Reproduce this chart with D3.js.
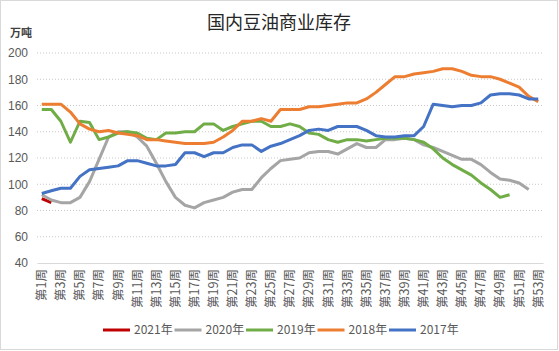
<!DOCTYPE html>
<html>
<head>
<meta charset="utf-8">
<script src="https://cdn.jsdelivr.net/npm/d3@7"></script>
<style>
    body { margin: 0; background: #fff; }
    text { font-family: "Noto Sans CJK SC", "Noto Sans", sans-serif; }
</style>
</head>
<body>
<div id="stock_linechart"></div>
<script>
// weeks 第1周 .. 第53周
const weeks = d3.range(1, 54).map(i => "第" + i + "周");
const yTicks = [40, 60, 80, 100, 120, 140, 160, 180, 200];

const years = ["2021年", "2020年", "2019年", "2018年", "2017年"];
const colors = ["#C00000", "#A5A5A5", "#70AD47", "#ED7D31", "#4472C4"];

const v2021 = [89, 86];
const v2020 = [92, 88, 86, 86, 90, 102, 119, 136, 140, 140, 136, 129, 116, 102, 90, 84, 82, 86, 88, 90,
    94, 96, 96, 105, 112, 118, 119, 120, 124, 125, 125, 123, 127, 131, 128, 128, 134, 134, 135, 134,
    130, 128, 125, 122, 119, 119, 115, 109, 104, 103, 101, 96];
const v2019 = [157, 157, 148, 132, 148, 147, 134, 136, 139, 140, 139, 135, 134, 139, 139, 140, 140, 146, 146, 141,
    144, 146, 148, 148, 144, 144, 146, 144, 139, 138, 134, 132, 134, 134, 133, 134, 135, 135, 135, 134,
    132, 127, 120, 115, 111, 107, 101, 96, 90, 92];
const v2018 = [161, 161, 161, 155, 146, 142, 140, 141, 139, 138, 137, 134, 134, 133, 132, 131, 131, 131, 132, 136,
    141, 148, 148, 150, 148, 157, 157, 157, 159, 159, 160, 161, 162, 162, 165, 170, 176, 182, 182, 184,
    185, 186, 188, 188, 186, 183, 182, 182, 180, 177, 174, 167, 163];
const v2017 = [93, 95, 97, 97, 106, 111, 112, 113, 114, 118, 118, 116, 114, 114, 115, 124, 124, 121, 124, 124,
    128, 130, 130, 125, 129, 131, 134, 137, 141, 142, 141, 144, 144, 144, 141, 137, 136, 136, 137, 137,
    144, 161, 160, 159, 160, 160, 162, 168, 169, 169, 168, 165, 165];

const seriesValues = [v2021, v2020, v2019, v2018, v2017];

const W = 559, H = 351;
const plot = {left: 37, right: 543, top: 53, bottom: 263};

const svg = d3.select("#stock_linechart")
    .append("svg")
        .attr("width", W)
        .attr("height", H);

// chart border
svg.append("rect")
    .attr("x", 0.5).attr("y", 0.5)
    .attr("width", W - 2).attr("height", H - 2)
    .attr("fill", "#fff")
    .attr("stroke", "#D9D9D9");

const x = d3.scaleBand()
    .domain(weeks)
    .range([plot.left, plot.right]);

const y = d3.scaleLinear()
    .domain([40, 200])
    .range([plot.bottom, plot.top]);

// gridlines
svg.append("g")
    .selectAll("line")
    .data(yTicks.slice(1))
    .join("line")
        .attr("x1", plot.left).attr("x2", plot.right)
        .attr("y1", d => y(d)).attr("y2", d => y(d))
        .attr("stroke", "#C8C8C8")
        .attr("stroke-dasharray", "1,2");

// Y axis
const yAxis = svg.append("g")
    .attr("transform", `translate(${plot.left},0)`)
    .call(d3.axisLeft(y).tickValues(yTicks).tickSize(0).tickPadding(9));
yAxis.select(".domain").remove();
yAxis.selectAll("text")
    .style("font-family", "'Liberation Sans', sans-serif")
    .style("font-size", "12px")
    .attr("fill", "#595959");

// X axis, every other week labelled
const xAxis = svg.append("g")
    .attr("transform", `translate(0,${plot.bottom})`)
    .call(d3.axisBottom(x).tickValues(weeks.filter((d, i) => i % 2 === 0)).tickSize(0));
xAxis.select(".domain").attr("stroke", "#D9D9D9");
xAxis.selectAll("text")
    .attr("transform", "rotate(-90)")
    .attr("text-anchor", "end")
    .attr("x", -6)
    .attr("y", 0)
    .attr("dy", "0.35em")
    .style("font-size", "12.5px")
    .attr("fill", "#595959");

// lines
const line = d3.line()
    .x((d, i) => x(weeks[i]) + x.bandwidth() / 2)
    .y(d => y(d));

svg.append("g")
    .selectAll("path")
    .data(seriesValues)
    .join("path")
        .attr("fill", "none")
        .attr("stroke", (d, i) => colors[i])
        .attr("stroke-width", 3)
        .attr("stroke-linejoin", "round")
        .attr("d", line);

// title and unit
svg.append("text")
    .attr("x", 279).attr("y", 29)
    .attr("text-anchor", "middle")
    .style("font-size", "18px")
    .attr("fill", "#262626")
    .text("国内豆油商业库存");

svg.append("text")
    .attr("x", 10).attr("y", 37)
    .style("font-size", "11px")
    .style("font-weight", "bold")
    .attr("fill", "#404040")
    .text("万吨");

// legend
const legend = svg.selectAll(".legend")
    .data(years)
    .join("g")
        .attr("class", "legend")
        .attr("transform", (d, i) => `translate(${103 + i * 71.5},330)`);

legend.append("line")
    .attr("x1", 0).attr("x2", 27)
    .attr("stroke", (d, i) => colors[i])
    .attr("stroke-width", 3);

legend.append("text")
    .attr("x", 31)
    .attr("dy", "0.35em")
    .style("font-size", "12px")
    .attr("fill", "#595959")
    .text(d => d);
</script>
</body>
</html>
